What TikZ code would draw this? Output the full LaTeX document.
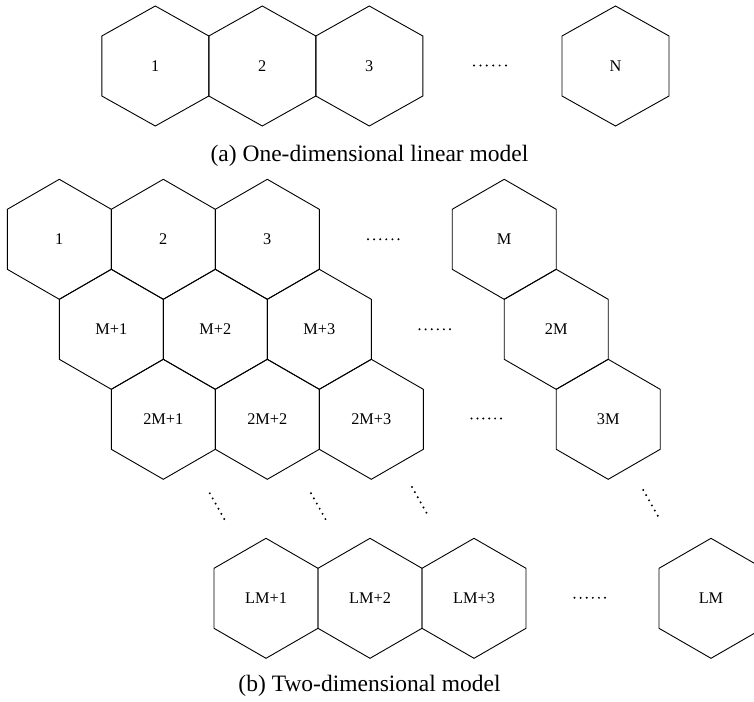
\documentclass[tikz,border=0pt]{standalone}
\usepackage{fontspec}
\setmainfont{Liberation Serif}
\usetikzlibrary{calc}
\tikzset{
  hexline/.style={draw=black, line width=0.9pt, line join=miter},
  lbl/.style={inner sep=0pt, font=\fontsize{16.3}{18}\selectfont},
  capt/.style={inner sep=0pt, font=\fontsize{23.5}{26}\selectfont},
  dotfill/.style={fill=black},
}
\newcommand\hexcell[5]{% name, x, y, width, text
  \node[lbl] (#1) at (#2,#3) {#5};
  \draw[hexline] ($(#1.center)+(0,-60)$) -- ++({#4/2},30) -- ++(0,60) -- ++({-#4/2},30)
     -- ++({-#4/2},-30) -- ++(0,-60) -- cycle;
}
\newcommand\dotseq[2]{% start coordinate name, end coordinate name
  \foreach \i in {0,...,5} \fill[dotfill] ($(#1)!\i/5!(#2)$) circle (1.1pt);
}
\begin{document}
\begin{tikzpicture}[x=1pt,y=-1pt]
\clip (0,0) rectangle (754,701);
% (a) one-dimensional
\hexcell{a1}{155.3}{66}{107}{1}
\hexcell{a2}{262.3}{66}{107}{2}
\hexcell{a3}{369.3}{66}{107}{3}
\hexcell{aN}{615.5}{66}{107}{N}
\coordinate (ads) at (474,65.5); \coordinate (ade) at (506,65.5);
\dotseq{ads}{ade}
\node[capt] (capa) at (369.5,156) {(a) One-dimensional linear model};
% (b) two-dimensional
\hexcell{b1}{59.3}{239.3}{104}{1}
\hexcell{b2}{163.3}{239.3}{104}{2}
\hexcell{b3}{267.3}{239.3}{104}{3}
\hexcell{bM}{504.2}{239.3}{104}{M}
\hexcell{c1}{111.3}{329.3}{104}{M+1}
\hexcell{c2}{215.3}{329.3}{104}{M+2}
\hexcell{c3}{319.3}{329.3}{104}{M+3}
\hexcell{cM}{556.2}{329.3}{104}{2M}
\hexcell{d1}{163.3}{419.3}{104}{2M+1}
\hexcell{d2}{267.3}{419.3}{104}{2M+2}
\hexcell{d3}{371.3}{419.3}{104}{2M+3}
\hexcell{dM}{608.2}{419.3}{104}{3M}
\hexcell{e1}{266}{598.3}{104}{LM+1}
\hexcell{e2}{370}{598.3}{104}{LM+2}
\hexcell{e3}{474}{598.3}{104}{LM+3}
\hexcell{eM}{711}{598.3}{104}{LM}
% horizontal ellipses
\coordinate (r1s) at (368,239.3); \coordinate (r1e) at (398.5,239.3);
\coordinate (r2s) at (419.5,329.3); \coordinate (r2e) at (450,329.3);
\coordinate (r3s) at (471.5,418.5); \coordinate (r3e) at (501,418.5);
\coordinate (r4s) at (574.5,597.8); \coordinate (r4e) at (605,597.8);
\dotseq{r1s}{r1e}
\dotseq{r2s}{r2e}
\dotseq{r3s}{r3e}
\dotseq{r4s}{r4e}
% diagonal ellipses
\coordinate (g1s) at (209.8,493.3); \coordinate (g1e) at (224.2,519);
\coordinate (g2s) at (311,493.3); \coordinate (g2e) at (325.4,519);
\coordinate (g3s) at (412,487); \coordinate (g3e) at (426.4,512.7);
\coordinate (g4s) at (643.3,490); \coordinate (g4e) at (657.7,515.7);
\dotseq{g1s}{g1e}
\dotseq{g2s}{g2e}
\dotseq{g3s}{g3e}
\dotseq{g4s}{g4e}
\node[capt] (capb) at (369.5,685.5) {(b) Two-dimensional model};
\end{tikzpicture}
\end{document}
